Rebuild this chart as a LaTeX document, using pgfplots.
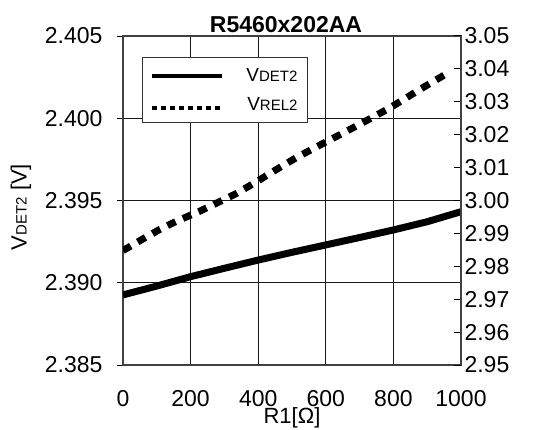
\documentclass[border=0pt]{standalone}
\usepackage{pgfplots}
\pgfplotsset{compat=1.18}
\usepackage{fontspec}
\setmainfont{Liberation Sans}
\newcommand{\sm}[1]{{\fontsize{15}{15}\selectfont #1}}
\begin{document}
\begin{tikzpicture}
\useasboundingbox (-123pt,-64pt) rectangle (411pt,365pt);
\begin{axis}[
  scale only axis, width=338pt, height=329pt,
  xmin=0, xmax=1000, ymin=2.385, ymax=2.405,
  xtick={0,200,400,600,800,1000},
  ytick={2.385,2.390,2.395,2.400,2.405},
  grid=major, grid style={black!90, line width=0.8pt},
  axis line style={black!75, line width=1.5pt},
  ytick pos=left, xtick pos=bottom, tick align=outside, major tick length=6pt,
  xtick style={draw=none}, ytick style={black, line width=1pt},
  ticklabel style={font=\fontsize{23}{23}\selectfont},
  /pgf/number format/assume math mode=true,
  /pgf/number format/1000 sep={},
  yticklabel style={xshift=-11pt, /pgf/number format/.cd, fixed, fixed zerofill, precision=3},
  xticklabel style={yshift=-16pt},
  scaled y ticks=false,
  title={R5460x202AA},
  title style={font=\fontsize{23}{23}\selectfont\bfseries, at={(axis description cs:0.5,1)}, anchor=base, yshift=-2pt, xshift=-6pt, inner sep=0pt},
  xlabel={R1[Ω]},
  xlabel style={font=\fontsize{22}{22}\selectfont, at={(axis description cs:0.5,0)}, anchor=north, yshift=-42pt, inner sep=0pt},
  ylabel={V\sm{DET2} [V]},
  ylabel style={font=\fontsize{22}{22}\selectfont, at={(axis description cs:-0.302,0.48)}, anchor=center, inner sep=0pt},
]
\addplot[black, line width=7pt, line join=round] coordinates {
  (0,2.38926) (100,2.38980) (200,2.39037) (300,2.39088) (400,2.39138)
  (500,2.39185) (600,2.39230) (700,2.39275) (800,2.39321) (900,2.39371) (1000,2.39432)
};
\end{axis}
\begin{axis}[
  scale only axis, width=338pt, height=329pt,
  xmin=0, xmax=1000, ymin=2.95, ymax=3.05,
  axis x line=none, axis y line*=right,
  ytick={2.95,2.96,2.97,2.98,2.99,3.00,3.01,3.02,3.03,3.04,3.05},
  tick align=inside, major tick length=7pt,
  axis line style={black!75, line width=1.5pt},
  ytick style={black, line width=1pt},
  ticklabel style={font=\fontsize{23}{23}\selectfont},
  /pgf/number format/assume math mode=true,
  yticklabel style={/pgf/number format/.cd, fixed, fixed zerofill, precision=2},
  scaled y ticks=false,
  legend style={at={(axis description cs:0.056,0.936)}, anchor=north west, draw=black!80, line width=1pt, fill=white,
    font=\fontsize{19}{19}\selectfont, inner xsep=8pt, inner ysep=9pt, row sep=10pt, column sep=20pt},
  legend cell align=right,
]
\addlegendimage{legend image code/.code={\draw[black, line width=4pt] (0pt,0pt) -- (70pt,0pt);}}
\addlegendentry{V\sm{DET2}}
\addlegendimage{legend image code/.code={\draw[black, line width=4pt, dash pattern=on 5pt off 4pt] (0pt,-4pt) -- (70pt,-4pt);}}
\addlegendentry{V\sm{REL2}}
\addplot[forget plot, black, line width=7pt, dash pattern=on 9pt off 8pt] coordinates {
  (0,2.9848) (57,2.9882) (105,2.9910) (156,2.9936) (224,2.9966) (301,3.0004)
  (335,3.0021) (395,3.0057) (460,3.0098) (514,3.0131) (578,3.0166) (655,3.0207)
  (728,3.0247) (787,3.0280) (827,3.0305) (879,3.0338) (955,3.0384)
};
\end{axis}
\end{tikzpicture}
\end{document}
